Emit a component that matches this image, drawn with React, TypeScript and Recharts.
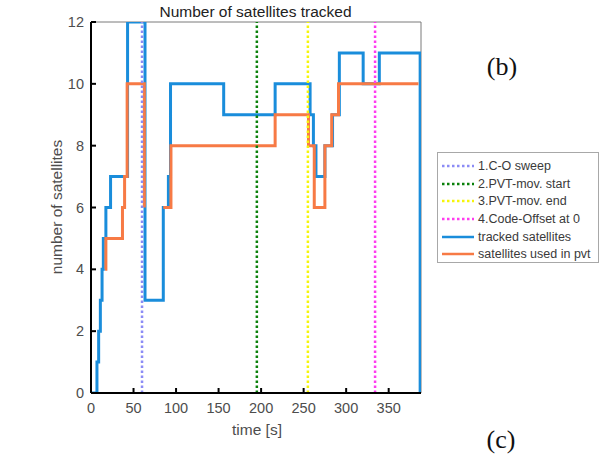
import { LineChart, Line, XAxis, YAxis, ReferenceLine } from "recharts";

// step points: value holds from this time until the next one
const trackedTime = [0, 7, 9, 11, 13, 14.5, 17.5, 23, 43, 63.5, 85, 91, 93.5, 156, 216.5, 257.6, 261.5, 264.5, 275, 284, 292, 320, 339, 387];
const trackedCount = [0, 1, 2, 3, 4, 5, 6, 7, 12, 3, 6, 7, 10, 9, 10, 9, 8, 7, 8, 9, 11, 10, 11, 0];

const usedTime = [16.5, 17.5, 37, 39.5, 42.5, 62.7, 63.7, 85, 94, 216.5, 255.7, 262.5, 275, 283, 291, 385];
const usedCount = [4, 5, 6, 7, 10, 6, null, 6, 8, 9, 8, 6, 8, 9, 10, 10];

const markerTimes = [60, 195, 255, 334];
const markerNames = ["1.C-O sweep", "2.PVT-mov. start", "3.PVT-mov. end", "4.Code-Offset at 0"];
const markerColors = ["#8c8cf5", "#0a800a", "#f5f50a", "#ff3cf0"];

const seriesNames = ["tracked satellites", "satellites used in pvt"];
const seriesColors = ["#1a8ddb", "#f77a45"];

const timeTicks = [0, 50, 100, 150, 200, 250, 300, 350];
const countTicks = [0, 2, 4, 6, 8, 10, 12];

const tickStyle = { fill: "#4d4d4d", fontSize: 14.5 };

export default function App() {
  const tracked = trackedTime.map((t, i) => ({ t, n: trackedCount[i] }));
  const used = usedTime.map((t, i) => ({ t, n: usedCount[i] }));

  const legendItems = [
    ...markerNames.map((name, i) => ({ name, color: markerColors[i], dash: "2.5 2.5" })),
    ...seriesNames.map((name, i) => ({ name, color: seriesColors[i], dash: undefined })),
  ];

  return (
    <div
      style={{
        position: "fixed",
        left: 0,
        top: 0,
        width: 605,
        height: 462,
        background: "#fff",
        fontFamily: "'Liberation Sans', Arial, sans-serif",
      }}
    >
      <LineChart width={605} height={462} margin={{ top: 22, right: 184, bottom: 39, left: 0 }}>
        <XAxis
          type="number"
          dataKey="t"
          domain={[0, 388]}
          ticks={timeTicks}
          allowDataOverflow
          height={30}
          tickSize={-5}
          tickMargin={15}
          stroke="#000"
          strokeWidth={2}
          tick={tickStyle}
        />
        <YAxis
          type="number"
          dataKey="n"
          domain={[0, 12]}
          ticks={countTicks}
          allowDataOverflow
          width={91}
          tickSize={-5}
          tickMargin={12}
          stroke="#000"
          strokeWidth={2}
          tick={tickStyle}
        />
        <ReferenceLine y={12} stroke="#7a7a7a" strokeWidth={1} />
        <ReferenceLine x={388} stroke="#7a7a7a" strokeWidth={1} />
        <Line
          data={tracked}
          dataKey="n"
          name={seriesNames[0]}
          type="stepAfter"
          stroke={seriesColors[0]}
          strokeWidth={3}
          dot={false}
          isAnimationActive={false}
        />
        <Line
          data={used}
          dataKey="n"
          name={seriesNames[1]}
          type="stepAfter"
          stroke={seriesColors[1]}
          strokeWidth={3}
          dot={false}
          connectNulls={false}
          isAnimationActive={false}
        />
        {markerTimes.map((t, i) => (
          <ReferenceLine
            key={t}
            x={t}
            stroke={markerColors[i]}
            strokeWidth={2.5}
            strokeDasharray="2.5 2.5"
          />
        ))}
      </LineChart>

      <div
        style={{
          position: "absolute",
          left: 0,
          top: 3,
          width: 511,
          textAlign: "center",
          fontSize: 15.5,
          color: "#222",
        }}
      >
        Number of satellites tracked
      </div>
      <div
        style={{
          position: "absolute",
          left: 157,
          top: 421,
          width: 200,
          textAlign: "center",
          fontSize: 15.5,
          color: "#4d4d4d",
        }}
      >
        time [s]
      </div>
      <div
        style={{
          position: "absolute",
          left: 57 - 100,
          top: 207 - 10,
          width: 200,
          textAlign: "center",
          fontSize: 15.5,
          lineHeight: "20px",
          color: "#4d4d4d",
          transform: "rotate(-90deg)",
        }}
      >
        number of satellites
      </div>

      <div
        style={{
          position: "absolute",
          left: 437,
          top: 152,
          width: 162,
          height: 111,
          boxSizing: "border-box",
          border: "1px solid #a8a8a8",
          background: "#fff",
          padding: "4px 0 0 4px",
        }}
      >
        {legendItems.map((item) => (
          <div
            key={item.name}
            style={{ display: "flex", alignItems: "center", height: 17.7, fontSize: 12.5, color: "#3a3a3a" }}
          >
            <svg width={32} height={6}>
              <line
                x1={0}
                y1={3}
                x2={32}
                y2={3}
                stroke={item.color}
                strokeWidth={2.5}
                strokeDasharray={item.dash}
              />
            </svg>
            <span style={{ marginLeft: 4, whiteSpace: "nowrap" }}>{item.name}</span>
          </div>
        ))}
      </div>

      <div
        style={{
          position: "absolute",
          left: 452,
          top: 51,
          width: 100,
          textAlign: "center",
          fontFamily: "'Liberation Serif', 'Times New Roman', serif",
          fontSize: 26,
          lineHeight: "32px",
          color: "#111",
        }}
      >
        (b)
      </div>
      <div
        style={{
          position: "absolute",
          left: 451,
          top: 424,
          width: 100,
          textAlign: "center",
          fontFamily: "'Liberation Serif', 'Times New Roman', serif",
          fontSize: 26,
          lineHeight: "32px",
          color: "#111",
        }}
      >
        (c)
      </div>
    </div>
  );
}
